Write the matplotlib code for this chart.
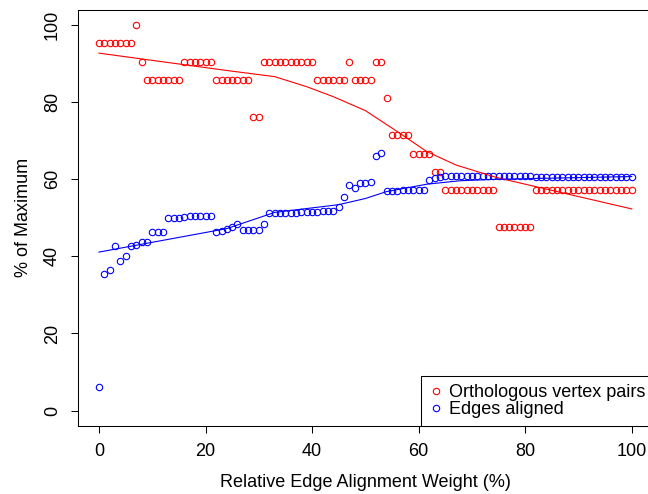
import matplotlib
matplotlib.use("Agg")
import matplotlib.pyplot as plt

plt.rcParams['font.family'] = ['Liberation Sans', 'DejaVu Sans']

# relative edge alignment weight (%)
weight = list(range(101))

# orthologous vertex pairs (% of maximum)
ortho = [95.24, 95.24, 95.24, 95.24, 95.24, 95.24, 95.24, 100.0, 90.48, 85.71,
         85.71, 85.71, 85.71, 85.71, 85.71, 85.71, 90.48, 90.48, 90.48, 90.48,
         90.48, 90.48, 85.71, 85.71, 85.71, 85.71, 85.71, 85.71, 85.71, 76.19,
         76.19, 90.48, 90.48, 90.48, 90.48, 90.48, 90.48, 90.48, 90.48, 90.48,
         90.48, 85.71, 85.71, 85.71, 85.71, 85.71, 85.71, 90.48, 85.71, 85.71,
         85.71, 85.71, 90.48, 90.48, 80.95, 71.43, 71.43, 71.43, 71.43, 66.67,
         66.67, 66.67, 66.67, 61.90, 61.90, 57.14, 57.14, 57.14, 57.14, 57.14,
         57.14, 57.14, 57.14, 57.14, 57.14, 47.62, 47.62, 47.62, 47.62, 47.62,
         47.62, 47.62, 57.14, 57.14, 57.14, 57.14, 57.14, 57.14, 57.14, 57.14,
         57.14, 57.14, 57.14, 57.14, 57.14, 57.14, 57.14, 57.14, 57.14, 57.14,
         57.14]

# edges aligned (% of maximum)
edges = [6.0, 35.5, 36.5, 42.6, 38.8, 40.2, 42.8, 43.0, 43.6, 43.8,
         46.2, 46.2, 46.2, 49.9, 49.9, 49.9, 50.3, 50.5, 50.5, 50.5,
         50.5, 50.5, 46.4, 46.7, 47.1, 47.6, 48.4, 46.9, 46.9, 46.9,
         46.9, 48.4, 51.2, 51.2, 51.3, 51.3, 51.3, 51.3, 51.4, 51.4,
         51.5, 51.5, 51.7, 51.7, 51.8, 52.8, 55.4, 58.4, 57.6, 58.9,
         59.0, 59.2, 66.1, 66.7, 56.9, 57.0, 57.0, 57.1, 57.1, 57.1,
         57.2, 57.2, 59.8, 60.4, 60.7, 60.9, 60.9, 60.9, 60.9, 60.9,
         60.9, 60.9, 60.9, 60.9, 60.9, 60.9, 60.9, 60.9, 60.9, 60.9,
         60.9, 60.9, 60.6, 60.6, 60.6, 60.6, 60.6, 60.6, 60.6, 60.6,
         60.6, 60.6, 60.6, 60.6, 60.6, 60.6, 60.6, 60.6, 60.6, 60.6,
         60.6]

# smoothed trend lines
ortho_fit_x = [0, 24, 33, 39, 44, 50, 56.5, 61.5, 67, 74, 76, 100]
ortho_fit_y = [92.7, 88.2, 86.6, 84.0, 81.4, 77.8, 71.9, 67.2, 63.7, 60.7, 60.0, 52.3]
edges_fit_x = [0, 24, 33, 45, 50, 54, 61.5, 67.7, 75, 100]
edges_fit_y = [41.1, 47.2, 51.4, 53.4, 55.0, 56.8, 58.7, 59.6, 60.0, 60.7]

FS = 13

fig = plt.figure(figsize=(6.48, 4.94), dpi=100)
ax = fig.add_axes([0.1199, 0.1377, 0.8878, 0.8429])

ax.plot(weight, ortho, 'o', mfc='none', mec='red', ms=4.6, mew=0.8,
        label='Orthologous vertex pairs')
ax.plot(weight, edges, 'o', mfc='none', mec='blue', ms=4.6, mew=0.8,
        label='Edges aligned')
ax.plot(ortho_fit_x, ortho_fit_y, color='red', lw=0.8)
ax.plot(edges_fit_x, edges_fit_y, color='blue', lw=0.8)

ax.set_xlim(-4, 104)
ax.set_ylim(-4, 104)
ax.set_xticks([0, 20, 40, 60, 80, 100])
ax.set_yticks([0, 20, 40, 60, 80, 100])
ax.tick_params(direction='out', length=5, width=0.75, labelsize=FS, pad=7)
for lab in ax.get_yticklabels():
    lab.set_rotation(90)
    lab.set_va('center')
for sp in ax.spines.values():
    sp.set_linewidth(0.75)

ax.set_xlabel('Relative Edge Alignment Weight (%)', fontsize=FS, labelpad=10)
ax.set_ylabel('% of Maximum', fontsize=FS, labelpad=9)

leg = ax.legend(loc='lower right', bbox_to_anchor=(1, 0), borderaxespad=0,
                fancybox=False, edgecolor='black', framealpha=1, fontsize=FS,
                handlelength=0.8, handletextpad=0.32, borderpad=0.42,
                labelspacing=0.03)
leg.get_frame().set_linewidth(0.75)

fig.savefig('out.png', dpi=100)
